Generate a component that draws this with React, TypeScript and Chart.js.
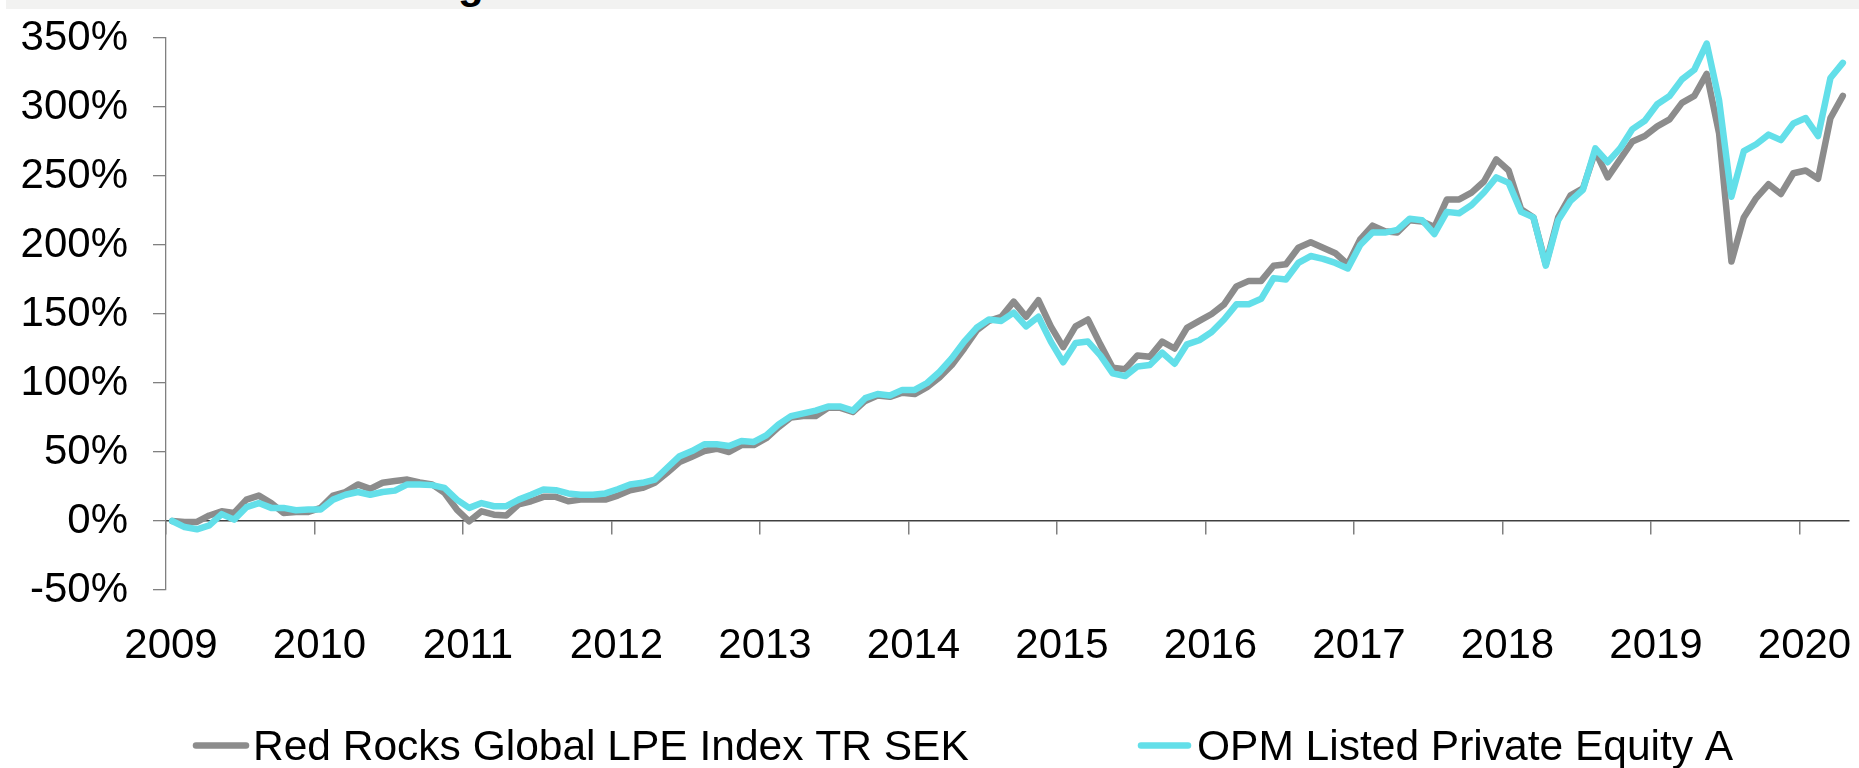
import React, { useEffect, useRef } from "react";
import { Chart, registerables } from "chart.js";

Chart.register(...registerables);

const FONT = "'Liberation Sans', Arial, Helvetica, sans-serif";

const seriesNames = ["Red Rocks Global LPE Index TR SEK", "OPM Listed Private Equity A"];
const seriesColors = ["#8c8c8c", "#63dfe9"];
const yearLabels = ["2009", "2010", "2011", "2012", "2013", "2014", "2015", "2016", "2017", "2018", "2019", "2020"];

// Monthly cumulative return (%), Jan 2009 .. Apr 2020
const redRocks = [
  0, -0.7, -0.7, 4, 7, 5.8, 15.5, 18.4, 13, 5.8, 6.5, 6.5,
  9.5, 18.4, 21, 26.5, 23.3, 27.7, 29, 30, 28, 26.5, 20.4, 8.3,
  -0.2, 7, 4.6, 4, 12, 14.3, 17.5, 17.5, 14.3, 15.5, 15.5, 15.5,
  18.4, 22.3, 24, 27.7, 35, 42.7, 46.6, 50.7, 52.4, 50, 55, 55,
  60, 68, 75, 76, 76, 82, 82, 79, 87, 91, 90, 93,
  92, 97, 104, 113, 125, 138, 145, 148, 159, 148, 160, 141,
  126, 141, 146, 128, 111, 110, 120, 119, 130, 125, 140, 145,
  150, 157, 170, 174, 174, 185, 186, 198, 202, 198, 194, 186,
  204, 214, 210, 209, 218, 217, 213, 233, 233, 238, 246, 262,
  254, 226, 220, 186, 220, 236, 241, 268, 249, 262, 275, 279,
  286, 291, 303, 308, 324, 281, 188, 220, 234, 244, 237, 252,
  254, 248, 292, 308,
];

const opm = [
  0, -4.4, -6, -3.2, 5, 1, 10, 13, 9.5, 9.5, 7.8, 8.3,
  8.3, 15.5, 19, 21, 19, 21, 22, 26.5, 26.5, 26, 24, 15.5,
  9.5, 13, 10.7, 10.7, 15.5, 19, 22.8, 22.3, 20, 19, 19, 20,
  23, 26.5, 27.7, 30, 38.6, 47, 50.7, 55.6, 55.6, 54.4, 58, 57.3,
  62, 70, 76, 78, 80, 83, 83, 80, 89, 92, 91, 95,
  95, 100, 108, 118, 130, 140, 146, 145, 151, 141, 148, 130,
  115, 129, 130, 120, 107, 105, 112, 113, 122, 114, 128, 131,
  137, 146, 157, 157, 161, 176, 175, 187, 192, 190, 187, 183,
  200, 209, 209, 211, 219, 218, 208, 224, 223, 229, 238, 249,
  245, 224, 220, 185, 218, 232, 240, 270, 260, 270, 284, 290,
  302, 308, 320, 327, 346, 305, 235, 268, 273, 280, 276, 288,
  292, 279, 321, 332,
];

const legendPlugin = {
  id: "bottomLegend",
  afterDraw(chart: any) {
    const ctx = chart.ctx as CanvasRenderingContext2D;
    const pos = [
      { x0: 196, x1: 246, tx: 253 },
      { x0: 1141, x1: 1188, tx: 1197 },
    ];
    const lineY = 745.5;
    ctx.save();
    chart.data.datasets.forEach((ds: any, i: number) => {
      const p = pos[i];
      ctx.strokeStyle = ds.borderColor;
      ctx.lineWidth = 6.5;
      ctx.lineCap = "round";
      ctx.beginPath();
      ctx.moveTo(p.x0, lineY);
      ctx.lineTo(p.x1, lineY);
      ctx.stroke();
      ctx.fillStyle = "#000";
      ctx.font = `42.5px ${FONT}`;
      ctx.textBaseline = "alphabetic";
      ctx.textAlign = "left";
      ctx.fillText(ds.label, p.tx, 760);
    });
    ctx.restore();
  },
};

export default function App() {
  const ref = useRef<HTMLCanvasElement>(null);

  useEffect(() => {
    const canvas = ref.current;
    if (!canvas) return;
    const toPoints = (arr: number[]) => arr.map((v, i) => ({ x: i + 0.5, y: v }));
    const lineStyle = {
      borderWidth: 6.5,
      pointRadius: 0,
      tension: 0,
      borderJoinStyle: "round",
      borderCapStyle: "round",
      xAxisID: "x",
      yAxisID: "y",
    };
    const chart = new Chart(canvas, {
      type: "line",
      data: {
        datasets: [
          {
            ...lineStyle,
            label: seriesNames[0],
            data: toPoints(redRocks),
            borderColor: seriesColors[0],
            backgroundColor: seriesColors[0],
            order: 2,
          },
          {
            ...lineStyle,
            label: seriesNames[1],
            data: toPoints(opm),
            borderColor: seriesColors[1],
            backgroundColor: seriesColors[1],
            order: 1,
          },
        ],
      },
      options: {
        animation: false,
        responsive: false,
        events: [],
        layout: { padding: { left: 21, right: 10, top: 38, bottom: 96 } },
        plugins: {
          legend: { display: false },
          tooltip: { enabled: false },
          title: { display: false },
        },
        scales: {
          x: {
            type: "linear",
            position: "bottom",
            min: 0,
            max: 136,
            grid: { display: false, drawTicks: false },
            border: { display: false },
            ticks: {
              stepSize: 12,
              includeBounds: false,
              autoSkip: false,
              maxRotation: 0,
              padding: 31,
              labelOffset: 5,
              color: "#000",
              font: { family: FONT, size: 42 },
              callback: (v: any) => yearLabels[Math.round(Number(v) / 12)] ?? "",
            },
            afterFit: (s: any) => {
              s.height = 82;
              s.paddingLeft = 0;
              s.paddingRight = 0;
            },
          },
          x0: {
            type: "linear",
            position: { y: 0 } as any,
            min: 0,
            max: 136,
            grid: { drawOnChartArea: false, drawTicks: true, tickLength: 13, color: "#808080", lineWidth: 1.5 },
            border: { display: true, color: "#404040", width: 1.5 },
            ticks: { display: false, stepSize: 12, includeBounds: false },
            afterFit: (s: any) => {
              s.paddingLeft = 0;
              s.paddingRight = 0;
            },
          },
          y: {
            type: "linear",
            position: "left",
            min: -50,
            max: 350,
            grid: { drawOnChartArea: false, drawTicks: true, tickLength: 13, color: "#808080", lineWidth: 1.3 },
            border: { display: true, color: "#808080", width: 1.3 },
            ticks: {
              stepSize: 50,
              padding: 25,
              color: "#000",
              font: { family: FONT, size: 42 },
              callback: (v: any) => `${v}%`,
            },
            afterFit: (s: any) => {
              s.width = 145;
              s.paddingTop = 0;
              s.paddingBottom = 0;
            },
          },
        },
      } as any,
      plugins: [legendPlugin],
    });
    return () => chart.destroy();
  }, []);

  return (
    <div style={{ position: "fixed", left: 0, top: 0, width: 1859, height: 768, background: "#fff", overflow: "hidden" }}>
      <div
        style={{
          position: "absolute",
          left: 6,
          top: 0,
          right: 0,
          height: 9,
          background: "#f2f2f1",
          overflow: "hidden",
        }}
      >
        <span
          style={{
            position: "absolute",
            left: 452,
            top: -37,
            fontFamily: FONT,
            fontWeight: "bold",
            fontSize: 42,
            lineHeight: 1,
            color: "#000",
          }}
        >
          g
        </span>
      </div>
      <canvas ref={ref} width={1859} height={768} style={{ position: "absolute", left: 0, top: 0 }} />
    </div>
  );
}
